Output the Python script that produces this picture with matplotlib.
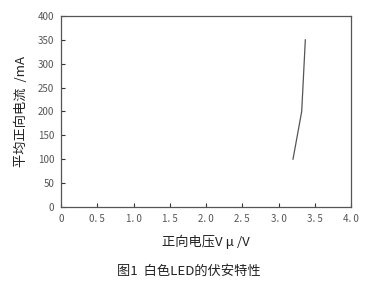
import matplotlib
matplotlib.use("Agg")
import matplotlib.pyplot as plt

plt.rcParams['font.family'] = ['Noto Sans CJK SC', 'DejaVu Sans']

# 白色LED 伏安特性
voltage = [3.2, 3.32, 3.37]
current = [100, 200, 350]
xticks = [0, 0.5, 1.0, 1.5, 2.0, 2.5, 3.0, 3.5, 4.0]
xtick_labels = ["0", "0. 5", "1. 0", "1. 5", "2. 0", "2. 5", "3. 0", "3. 5", "4. 0"]
yticks = [0, 50, 100, 150, 200, 250, 300, 350, 400]

fig = plt.figure(figsize=(3.77, 2.85), dpi=100)
ax = fig.add_axes([0.162, 0.274, 0.769, 0.67])

ax.plot(voltage, current, color='#555555', linewidth=0.9)

ax.set_xlim(0, 4.0)
ax.set_ylim(0, 400)
ax.set_xticks(xticks)
ax.set_xticklabels(xtick_labels)
ax.set_yticks(yticks)
ax.tick_params(direction='in', length=3, width=0.8, labelsize=7,
               colors='#333333', labelcolor='#555555', pad=5)
for s in ax.spines.values():
    s.set_color('#555555')
    s.set_linewidth(0.9)

ax.set_xlabel("正向电压V μ /V", fontsize=9.5, color='#222222', labelpad=8)
ax.set_ylabel("平均正向电流  /mA", fontsize=9.5, color='#222222', labelpad=7)
fig.text(0.5, 0.035, "图1  白色LED的伏安特性", ha='center', fontsize=9.5, color='#222222')

fig.savefig("out.png", dpi=100)
